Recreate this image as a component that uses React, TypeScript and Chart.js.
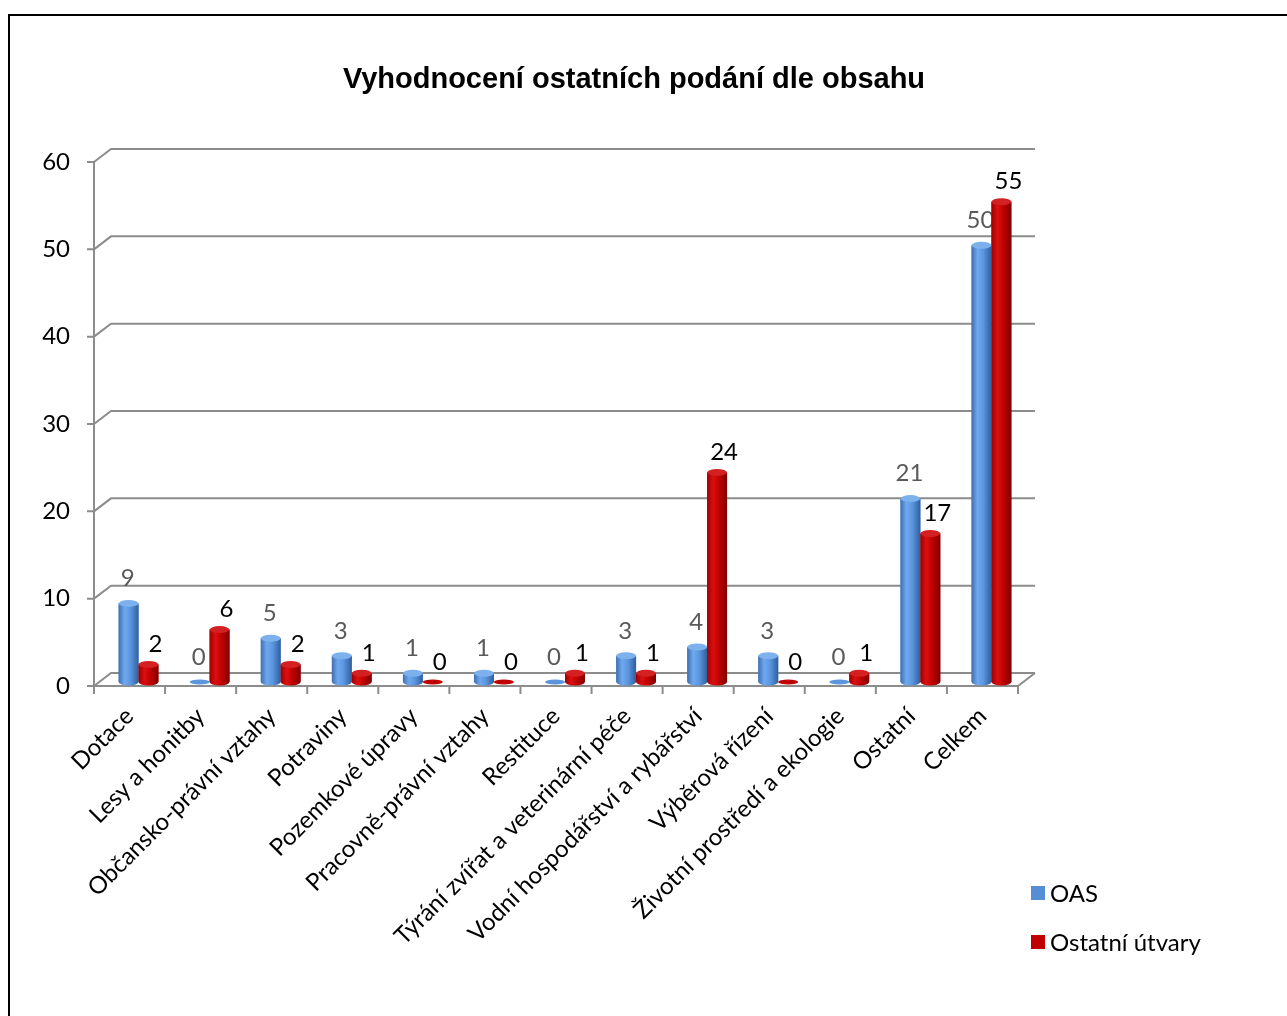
import React, { useEffect, useRef } from "react";
import { Chart, registerables } from "chart.js";

Chart.register(...registerables);

const title = "Vyhodnocení ostatních podání dle obsahu";
const categories = [
  "Dotace",
  "Lesy a honitby",
  "Občansko-právní vztahy",
  "Potraviny",
  "Pozemkové úpravy",
  "Pracovně-právní vztahy",
  "Restituce",
  "Týrání zvířat a veterinární péče",
  "Vodní hospodářství a rybářství",
  "Výběrová řízení",
  "Životní prostředí a ekologie",
  "Ostatní",
  "Celkem",
];
const seriesNames = ["OAS", "Ostatní útvary"];
const oasValues = [9, 0, 5, 3, 1, 1, 0, 3, 4, 3, 0, 21, 50];
const ostatniValues = [2, 6, 2, 1, 0, 0, 1, 1, 24, 0, 1, 17, 55];
const yMin = 0;
const yMax = 60;
const yStep = 10;

const BLUE = "#558ED5";
const RED = "#C00000";
const GRID = "#8C8C8C";
const DEPTH_X = 17;
const DEPTH_Y = -13;
const BAR_DX = 9;
const BAR_DY = -4;
const FONT = "Lato, 'Open Sans', sans-serif";
const FS = 24;

const cyl = [
  { stops: ["#3F6FB0", "#6FA8EE", "#5A95DE", "#2F5E9E"], cap: "#7DB1EE", label: "#595959", dx: -1, dy: -25 },
  { stops: ["#A00000", "#DA1010", "#C00000", "#7E0000"], cap: "#D42020", label: "#000000", dx: 7, dy: -20 },
];

const framePlugin = {
  id: "frame3d",
  beforeDatasetsDraw(chart: any) {
    const { ctx, chartArea } = chart;
    const { left, right, top, bottom } = chartArea;
    const ys = chart.scales.y;
    ctx.save();
    ctx.strokeStyle = GRID;
    ctx.lineWidth = 2;
    ctx.beginPath();
    ys.ticks.forEach((t: any) => {
      const y = ys.getPixelForValue(t.value);
      ctx.moveTo(left - 7, y);
      ctx.lineTo(left, y);
      ctx.moveTo(left, y);
      ctx.lineTo(left + DEPTH_X, y + DEPTH_Y);
      ctx.lineTo(right + DEPTH_X, y + DEPTH_Y);
    });
    ctx.moveTo(left, top);
    ctx.lineTo(left, bottom);
    ctx.moveTo(left, bottom);
    ctx.lineTo(right, bottom);
    ctx.lineTo(right + DEPTH_X, bottom + DEPTH_Y);
    const n = categories.length;
    for (let i = 0; i <= n; i++) {
      const x = left + (i * (right - left)) / n;
      ctx.moveTo(x, bottom);
      ctx.lineTo(x, bottom + 8);
    }
    ctx.stroke();
    ctx.restore();
    ctx.save();
    ctx.translate(BAR_DX, BAR_DY);
  },
  afterDatasetsDraw(chart: any) {
    const { ctx } = chart;
    chart.data.datasets.forEach((ds: any, di: number) => {
      const meta = chart.getDatasetMeta(di);
      const st = cyl[di];
      meta.data.forEach((el: any, i: number) => {
        const { x, y, base, width } = el.getProps(["x", "y", "base", "width"], true);
        const l = x - width / 2;
        const r = x + width / 2;
        const rx = width / 2;
        const ry = 3.5;
        const g = ctx.createLinearGradient(l, 0, r, 0);
        g.addColorStop(0, st.stops[0]);
        g.addColorStop(0.3, st.stops[1]);
        g.addColorStop(0.6, st.stops[2]);
        g.addColorStop(1, st.stops[3]);
        ctx.fillStyle = g;
        if (base - y > 0.5) {
          ctx.fillRect(l, y, width, base - y);
          ctx.beginPath();
          ctx.ellipse(x, base, rx, ry, 0, 0, Math.PI);
          ctx.fill();
        }
        ctx.beginPath();
        ctx.ellipse(x, y, rx, base - y > 0.5 ? ry : 2.5, 0, 0, Math.PI * 2);
        ctx.fillStyle = base - y > 0.5 ? st.cap : st.stops[2];
        ctx.fill();
        ctx.font = `${FS}px ${FONT}`;
        ctx.fillStyle = st.label;
        ctx.textAlign = "center";
        ctx.textBaseline = "middle";
        ctx.fillText(String(ds.data[i]), x + st.dx, y + st.dy);
      });
    });
    ctx.restore();
  },
};

export default function App() {
  const ref = useRef<HTMLCanvasElement>(null);
  useEffect(() => {
    if (!ref.current) return;
    const chart = new Chart(ref.current, {
      type: "bar",
      data: {
        labels: categories,
        datasets: [
          { label: seriesNames[0], data: oasValues, backgroundColor: BLUE, categoryPercentage: 0.56, barPercentage: 1, clip: false } as any,
          { label: seriesNames[1], data: ostatniValues, backgroundColor: RED, categoryPercentage: 0.56, barPercentage: 1, clip: false } as any,
        ],
      },
      options: {
        responsive: false,
        animation: false,
        layout: { padding: { left: 0, top: 162, right: 269, bottom: 0 } },
        plugins: {
          legend: { display: false },
          tooltip: { enabled: false },
          title: { display: false },
        },
        scales: {
          x: {
            grid: { display: false },
            border: { display: false },
            ticks: {
              font: { family: FONT, size: FS },
              color: "#000",
              minRotation: 45,
              maxRotation: 45,
              padding: 8,
              autoSkip: false,
            },
            afterFit: (s: any) => {
              s.height = 330;
            },
          },
          y: {
            min: yMin,
            max: yMax,
            grid: { display: false },
            border: { display: false },
            ticks: {
              stepSize: yStep,
              font: { family: FONT, size: FS },
              color: "#000",
              padding: 16,
            },
            afterFit: (s: any) => {
              s.width = 94;
            },
          },
        },
      },
      plugins: [framePlugin],
    });
    return () => chart.destroy();
  }, []);

  const legendItem = (color: string, text: string, top: number) => (
    <div style={{ position: "absolute", left: 1031, top, display: "flex", alignItems: "center", height: 26 }}>
      <div style={{ width: 14, height: 14, background: color, marginRight: 5 }} />
      <span style={{ fontFamily: FONT, fontSize: FS, color: "#000", lineHeight: "26px" }}>{text}</span>
    </div>
  );

  return (
    <div style={{ position: "absolute", left: 0, top: 0, width: 1287, height: 1016, overflow: "hidden", background: "#fff" }}>
      <div
        style={{
          position: "absolute",
          left: 8,
          top: 14,
          width: 1290,
          height: 1010,
          borderLeft: "2px solid #000",
          borderTop: "2px solid #000",
          boxSizing: "border-box",
        }}
      />
      <canvas ref={ref} width={1287} height={1016} style={{ position: "absolute", left: 0, top: 0 }} />
      <div
        style={{
          position: "absolute",
          left: 0,
          width: 1268,
          top: 61,
          textAlign: "center",
          fontFamily: "'Liberation Sans', Arial, sans-serif",
          fontWeight: "bold",
          fontSize: 29,
          lineHeight: "34px",
          color: "#000",
        }}
      >
        {title}
      </div>
      {legendItem(BLUE, seriesNames[0], 880)}
      {legendItem(RED, seriesNames[1], 929)}
    </div>
  );
}
